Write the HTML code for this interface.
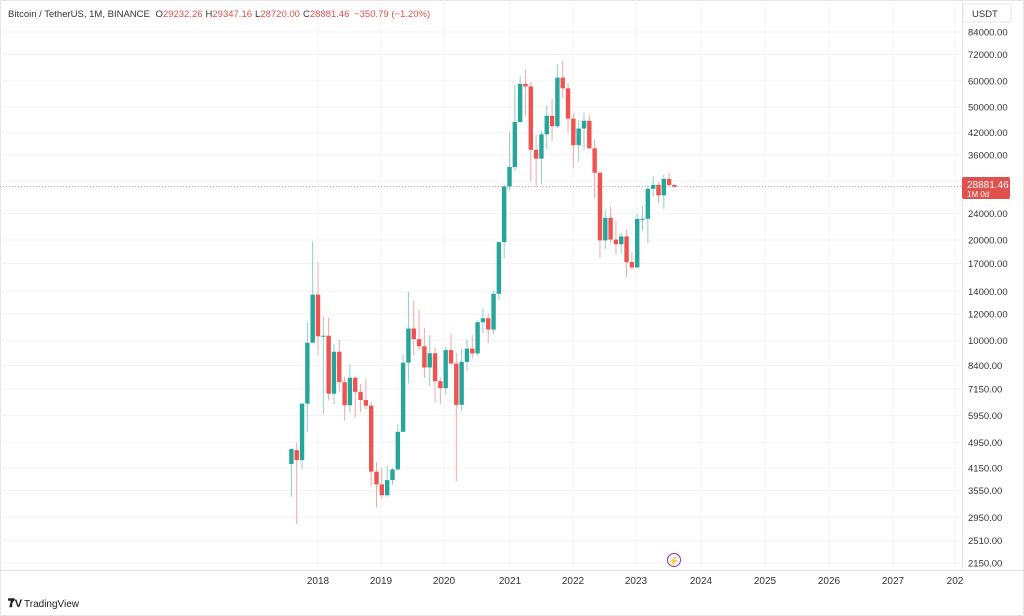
<!DOCTYPE html>
<html><head><meta charset="utf-8"><style>
body{margin:0;background:#fff;font-family:"Liberation Sans",sans-serif;}
#w{position:relative;width:1024px;height:616px;overflow:hidden;background:#fff}
svg{position:absolute;left:0;top:0}
</style></head><body><div id="w">
<svg id="s" width="1024" height="616" viewBox="0 0 1024 616">
<rect x="0.5" y="0.5" width="1023" height="615" fill="none" stroke="#e6e6e6"/>
<g id="grid" stroke="#f3f3f3" stroke-width="1"></g>
<line x1="962.5" y1="0" x2="962.5" y2="570" stroke="#e0e3eb"/>
<line x1="0" y1="570.5" x2="1024" y2="570.5" stroke="#e0e3eb"/>
<line x1="0" y1="186.5" x2="962" y2="186.5" stroke="#e5a0a0" stroke-dasharray="1,2"/>
<g id="c"></g>
<g id="pl" font-size="9.5" fill="#333" font-family="Liberation Sans,sans-serif"></g>
<rect x="963" y="4" width="48" height="18" rx="2" fill="#fff" stroke="#e6e6e6"/>
<text x="972" y="17" font-size="9.5" fill="#333">USDT</text>
<rect x="962" y="177" width="48" height="22" rx="2" fill="#e0504c"/>
<text x="967" y="188" font-size="10" fill="#fff">28881.46</text>
<text x="967" y="197" font-size="8" fill="#fff">1M 0d</text>
<g font-size="10" fill="#333" text-anchor="middle">
<text x="318" y="584">2018</text><text x="381" y="584">2019</text><text x="444" y="584">2020</text>
<text x="510" y="584">2021</text><text x="573" y="584">2022</text><text x="636" y="584">2023</text>
<text x="701" y="584">2024</text><text x="765" y="584">2025</text><text x="829" y="584">2026</text>
<text x="893" y="584">2027</text><text x="955" y="584">202</text>
</g>
<circle cx="674" cy="560" r="6.5" fill="#fff" stroke="#9c27b0" stroke-width="1"/>
<text x="674" y="564" font-size="9" fill="#9c27b0" text-anchor="middle">⚡</text>
<text x="8" y="607" font-size="12" font-weight="bold" fill="#222">𝟕</text>
<text x="8" y="607" font-size="11" font-weight="bold" fill="#222">TV</text>
<text x="24" y="607" font-size="10" fill="#222">TradingView</text>
<text x="8" y="17" font-size="9.5" fill="#333">Bitcoin / TetherUS, 1M, BINANCE <tspan dx="3">O</tspan><tspan fill="#e0504c">29232.26</tspan><tspan dx="3">H</tspan><tspan fill="#e0504c">29347.16</tspan><tspan dx="3">L</tspan><tspan fill="#e0504c">28720.00</tspan><tspan dx="3">C</tspan><tspan fill="#e0504c">28881.46 <tspan dx="2">−350.79 (−1.20%)</tspan></tspan></text>
</svg>
<script>
var ns="http://www.w3.org/2000/svg";
function Y(p){return 32+144.9*Math.log(84000/p);}
function X(m){return 318+5.32*m;}
var d=[[4261,4745,3400,4724],[4689,4939,2817,4378],[4378,6470,4110,6463],[6463,11300,5325,9838],[9838,19798,10961,13716],
[13716,17176,9035,10285],[10285,11786,6000,10326],[10326,11709,6600,6923],[6923,9759,6430,9246],[9246,10020,7032,7494],[7494,7786,5750,6391],[6391,8491,6070,7730],[7730,7750,5880,7011],[7011,7410,6111,6626],[6626,7680,6205,6371],[6371,6555,3652,4041],[4041,4312,3156,3702],
[3702,4140,3349,3434],[3434,4210,3400,3813],[3813,4140,3690,4105],[4105,5600,4070,5320],[5320,9074,5350,8574],[8574,13970,7440,10855],[10855,13147,9010,10085],[10085,12325,9320,9600],[9600,10905,7710,8293],[8293,10370,7300,9150],[9150,9530,6515,7547],[7547,7750,6435,7195],
[7195,9578,6871,9352],[9352,10500,8445,8523],[8523,9188,3782,6410],[6410,9460,6150,8620],[8620,10067,8117,9448],[9448,10380,8833,9138],[9138,11444,8977,11335],[11335,12468,10518,11649],[11649,12050,9825,10776],[10776,14100,10416,13791],[13791,19863,13195,19695],[19695,29300,17572,28923],
[28923,41950,28130,33092],[33092,58352,32296,45135],[45134,61844,44950,58740],[58739,64854,46930,57694],[57697,59500,30000,37253],[37253,41330,28805,35045],[35045,42448,29278,41462],[41461,50500,37332,47100],[47100,52920,39600,43824],[43820,67000,43283,61299],[61300,69000,53256,56950],[56950,59053,42000,46216],
[46217,47990,32917,38466],[38466,45821,34322,43160],[43160,48190,37155,45510],[45510,47444,37578,37630],[37630,40023,26700,31801],[31801,31986,17622,19942],[19942,24668,18782,23293],[23297,25211,19520,20050],[20049,22799,18125,19423],[19423,20988,18190,20490],[20491,21480,15476,17164],[17165,18387,16256,16542],
[16542,23960,16500,23125],[23125,25250,21351,23142],[23142,29184,19549,28465],[28465,31000,26942,29233],[29233,29820,25811,27210],[27210,31431,24800,30472],[30472,31804,28861,29232],[29232,29347,28720,28881]];
var g=document.getElementById("c");
d.forEach(function(c,i){var m=i-5,x=X(m),up=c[3]>=c[0],col=up?"#26a69a":"#ef5350";
var l=document.createElementNS(ns,"line");l.setAttribute("x1",x);l.setAttribute("x2",x);l.setAttribute("y1",Y(c[1]));l.setAttribute("y2",Y(c[2]));l.setAttribute("stroke",up?"#8fcfc7":"#f0a8a6");g.appendChild(l);
var r=document.createElementNS(ns,"rect");var t=Y(Math.max(c[0],c[3])),b=Y(Math.min(c[0],c[3]));r.setAttribute("x",x-2.2);r.setAttribute("width",4.4);r.setAttribute("y",t);r.setAttribute("height",Math.max(1,b-t));r.setAttribute("fill",col);g.appendChild(r);});
var P=[84000,72000,60000,50000,42000,36000,30000,24000,20000,17000,14000,12000,10000,8400,7150,5950,4950,4150,3550,2950,2510,2150];
var pl=document.getElementById("pl"),gr=document.getElementById("grid");
P.forEach(function(p){var y=Y(p);var ln=document.createElementNS(ns,"line");ln.setAttribute("x1",0);ln.setAttribute("x2",962);ln.setAttribute("y1",y);ln.setAttribute("y2",y);gr.appendChild(ln);
if(p==30000)return;var t=document.createElementNS(ns,"text");t.setAttribute("x",968);t.setAttribute("y",y+3.5);t.textContent=p.toFixed(2);pl.appendChild(t);});
[318,381,444,510,573,636,701,765,829,893,955].forEach(function(x){var ln=document.createElementNS(ns,"line");ln.setAttribute("x1",x);ln.setAttribute("x2",x);ln.setAttribute("y1",0);ln.setAttribute("y2",570);gr.appendChild(ln);});
</script>
</div></body></html>
